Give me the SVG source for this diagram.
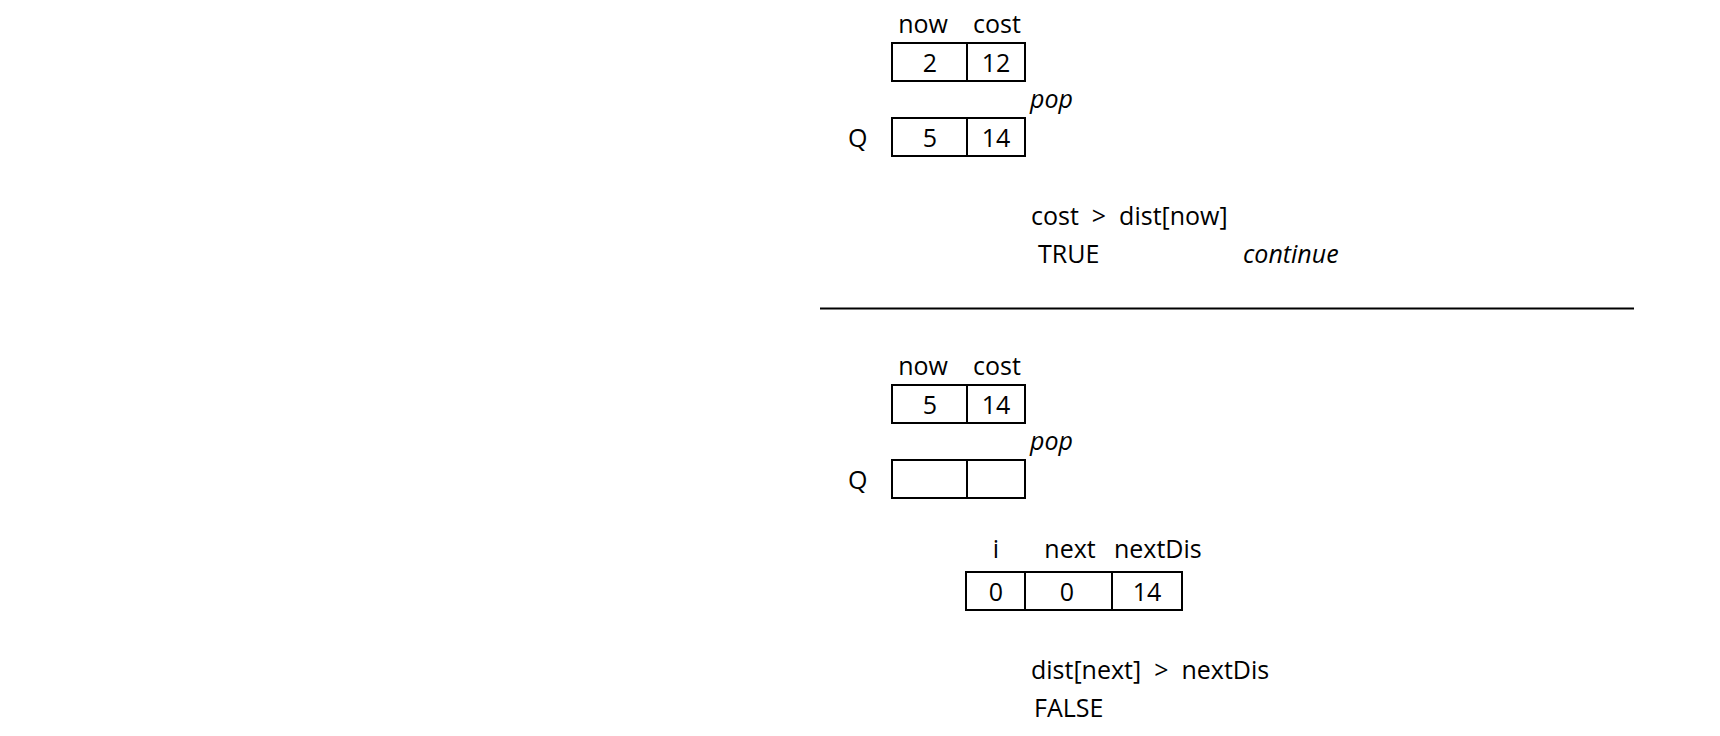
<svg xmlns="http://www.w3.org/2000/svg" width="1720" height="736" viewBox="0 0 1720 736">
<style>
text{font-family:"Open Sans","Noto Sans","DejaVu Sans",sans-serif;font-size:25px;fill:#000}
.c{text-anchor:middle}
.it{font-style:italic}
.box{fill:#fff;stroke:#000;stroke-width:2}
.div{stroke:#000;stroke-width:2}
</style>
<rect width="1720" height="736" fill="#fff"/>
<g id="step1">
<g id="cur1">
<text class="c" x="923" y="33">now</text>
<text class="c" x="997" y="33">cost</text>
<rect class="box" x="892" y="43" width="133" height="38"/>
<line class="div" x1="967" y1="43" x2="967" y2="81"/>
<text class="c" x="930" y="72">2</text>
<text class="c" x="996" y="72">12</text>
</g>
<text class="it" x="1030" y="108">pop</text>
<g id="q1">
<text x="848" y="147">Q</text>
<rect class="box" x="892" y="118" width="133" height="38"/>
<line class="div" x1="967" y1="118" x2="967" y2="156"/>
<text class="c" x="930" y="147">5</text>
<text class="c" x="996" y="147">14</text>
</g>
<g id="cond1">
<text x="1031" y="225" xml:space="preserve">cost  &gt;  dist[now]</text>
<text x="1038" y="263">TRUE</text>
<text class="it" x="1243" y="263">continue</text>
</g>
</g>
<g id="connectors">
<line x1="820" y1="308.5" x2="1634" y2="308.5" stroke="#000" stroke-width="2"/>
</g>
<g id="step2">
<g id="cur2">
<text class="c" x="923" y="375">now</text>
<text class="c" x="997" y="375">cost</text>
<rect class="box" x="892" y="385" width="133" height="38"/>
<line class="div" x1="967" y1="385" x2="967" y2="423"/>
<text class="c" x="930" y="414">5</text>
<text class="c" x="996" y="414">14</text>
</g>
<text class="it" x="1030" y="450">pop</text>
<g id="q2">
<text x="848" y="489">Q</text>
<rect class="box" x="892" y="460" width="133" height="38"/>
<line class="div" x1="967" y1="460" x2="967" y2="498"/>
</g>
<g id="edge">
<text class="c" x="996" y="558">i</text>
<text class="c" x="1070" y="558">next</text>
<text x="1114" y="558">nextDis</text>
<rect class="box" x="966" y="572" width="216" height="38"/>
<line class="div" x1="1025" y1="572" x2="1025" y2="610"/>
<line class="div" x1="1112" y1="572" x2="1112" y2="610"/>
<text class="c" x="996" y="601">0</text>
<text class="c" x="1067" y="601">0</text>
<text class="c" x="1147" y="601">14</text>
</g>
<g id="cond2">
<text x="1031" y="679" xml:space="preserve">dist[next]  &gt;  nextDis</text>
<text x="1034" y="717">FALSE</text>
</g>
</g>
</svg>
